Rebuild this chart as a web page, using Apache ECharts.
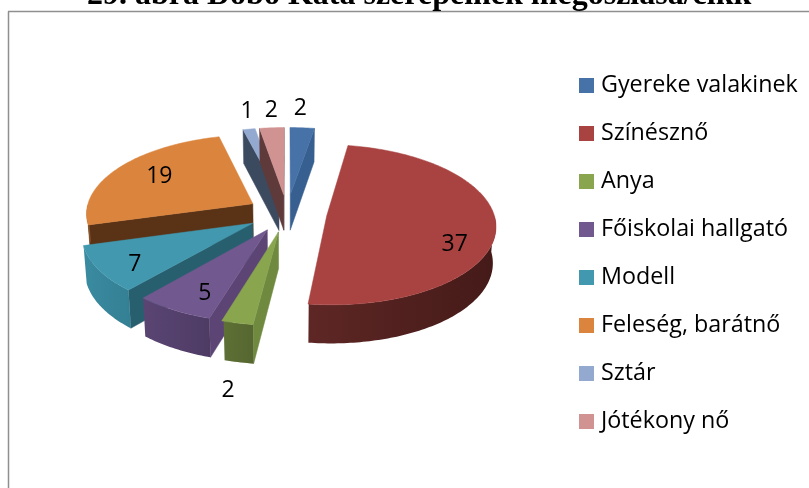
<!DOCTYPE html>
<html><head><meta charset="utf-8">
<style>html,body{margin:0;padding:0;background:#fff}#c{width:809px;height:488px}</style>
<script src="https://cdn.jsdelivr.net/npm/echarts@6/dist/echarts.min.js"></script></head>
<body><div id="c"></div>
<script>
var chartTitle = '29. ábra Dobó Kata szerepeinek megoszlása/cikk';
var categories = ['Gyereke valakinek','Színésznő','Anya','Főiskolai hallgató','Modell','Feleség, barátnő','Sztár','Jótékony nő'];
var values = [2,37,2,5,7,19,1,2];
var topColors = ['#4672A8','#A84341','#89A54E','#71588F','#4198AF','#DB843D','#93A9CF','#D19392'];
var cutColors = ['#375F90','#4A1C1A','#6F8A3E','#5C4475','#285F6F','#5A3317','#3C4A60','#5F3A3A'];
var wallFrom = ['#365D8D','#5E2725','#5E7035','#5A4573','#3A8BA1','#8A5225','#3C4A60','#5F3A3A'];
var wallTo   = ['#365D8D','#441A18','#566630','#4E3B64','#347F93','#8A5225','#3C4A60','#5F3A3A'];
var labelRadius = [221,134,265,130,135,118,216,215];
var labelShift  = [-1.6,17,-3.6,-4,-4.5,2,1.8,0.8];
var paintOrder = [5,6,7,0,1,4,3,2];

var CX=287, CY=213, R=167, EXPLODE=40, TILT=0.47, PERSP=1500;
var total = values.reduce(function(a,b){return a+b;},0);
var rad = function(d){return d*Math.PI/180;};
function project(X,Y){var s=1/(1+Y/PERSP);return [CX+X*s, CY-Y*TILT*s, s];}
function topPt(X,Y){var p=project(X,Y);return [p[0],p[1]];}
function botPt(X,Y){var p=project(X,Y);return [CX+(p[0]-CX)*0.985, p[1]+36+20*(p[2]-1)];}

function startAngle(i){var a=0;for(var k=0;k<i;k++)a+=values[k];return a/total*360;}

function renderSlice(i, params, api){
  var v = api.value(0);
  var a0 = startAngle(i), a1 = a0 + v/total*360, mid=(a0+a1)/2;
  var ex = EXPLODE*Math.sin(rad(mid)), ey = EXPLODE*Math.cos(rad(mid));
  var rim = function(a){return [ex+R*Math.sin(rad(a)), ey+R*Math.cos(rad(a))];};
  var kids = [];
  var flat = function(pts,fill){kids.push({type:'polygon',shape:{points:pts},style:{fill:fill,stroke:fill,lineWidth:0.5}});};
  var quad = function(a,b,fill){flat([topPt(a[0],a[1]),topPt(b[0],b[1]),botPt(b[0],b[1]),botPt(a[0],a[1])],fill);};
  var apex=[ex,ey];
  if (Math.cos(rad(a0-90))<0) quad(apex,rim(a0),cutColors[i]);
  if (Math.cos(rad(a1+90))<0) quad(apex,rim(a1),cutColors[i]);
  var w0=Math.max(a0,90), w1=Math.min(a1,270);
  if (w1>w0){
    var up=[],dn=[];
    for(var a=w0;a<=w1+0.001;a+=Math.min(1,(w1-w0))){var r=rim(a);up.push(topPt(r[0],r[1]));dn.unshift(botPt(r[0],r[1]));}
    var fill = new echarts.graphic.LinearGradient(0,0,1,0,[{offset:0,color:wallFrom[i]},{offset:1,color:wallTo[i]}]);
    kids.push({type:'polygon',shape:{points:up.concat(dn)},style:{fill:fill}});
  }
  var face=[topPt(ex,ey)];
  for(var b=a0;b<a1;b+=1){var q=rim(b);face.push(topPt(q[0],q[1]));}
  var e=rim(a1);face.push(topPt(e[0],e[1]));
  flat(face,topColors[i]);
  var la=mid+labelShift[i], lr=labelRadius[i];
  var lp=topPt(ex+lr*Math.sin(rad(la)), ey+lr*Math.cos(rad(la)));
  kids.push({type:'text',z2:10,style:{text:String(v),x:lp[0],y:lp[1],align:'center',verticalAlign:'middle',
    font:'23px "Open Sans"',fill:'#000'}});
  return {type:'group',children:kids};
}

var series = paintOrder.map(function(i){
  return {name:categories[i],type:'custom',coordinateSystem:'none',silent:true,animation:false,
    itemStyle:{color:topColors[i]},data:[[values[i]]],
    renderItem:function(p,api){return renderSlice(i,p,api);}};
});

var chart = echarts.init(document.getElementById('c'),null,{renderer:'canvas'});
chart.setOption({
  animation:false,backgroundColor:'#fff',
  title:{text:chartTitle,left:87,top:-20,padding:0,textStyle:{fontFamily:'"Liberation Serif"',fontWeight:'bold',fontSize:32,color:'#000'}},
  legend:{orient:'vertical',left:579,top:74,data:categories,icon:'rect',itemWidth:15,itemHeight:15,itemGap:25,padding:0,
    textStyle:{fontFamily:'"Open Sans"',fontSize:23.3,color:'#000',padding:[0,0,0,2],lineHeight:15},selectedMode:false},
  graphic:[
    {type:'line',shape:{x1:8.5,y1:488,x2:8.5,y2:11.5},style:{stroke:'#8f8f8f',lineWidth:1.5},silent:true},
    {type:'line',shape:{x1:8,y1:11.5,x2:809,y2:11.5},style:{stroke:'#8f8f8f',lineWidth:1.5},silent:true}
  ],
  series:series
});
</script></body></html>
